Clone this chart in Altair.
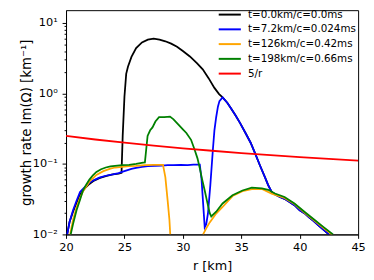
import altair as alt
import pandas as pd

# ---- data ----
series_names = ["t=0.0km/c=0.0ms", "t=7.2km/c=0.024ms", "t=126km/c=0.42ms",
                "t=198km/c=0.66ms", "5/r"]
series_colors = ["black", "#0000ff", "orange", "green", "red"]

blue_r = [20.1, 20.3, 20.6, 20.9, 21.2, 21.6, 22.0, 22.4, 22.85, 23.4, 24.0, 24.5,
          24.8, 25.2, 25.6, 26.0, 26.5, 27.0, 27.6, 28.2, 28.7, 29.2, 29.8, 30.4,
          30.9, 31.3, 31.45, 31.6, 31.75, 31.87, 32.0, 32.15, 32.35, 32.57, 32.7,
          32.85, 33.0, 33.13, 33.4, 33.8, 34.1, 34.5, 34.9, 35.36, 35.8, 36.2,
          36.6, 37.04, 37.3, 37.6, 37.9, 38.3, 38.7, 39.1, 39.55, 40.0, 40.4, 40.8,
          41.2, 41.6, 42.0, 42.5]
blue_v = [0.010, 0.015, 0.022, 0.030, 0.040, 0.047, 0.054, 0.059, 0.064, 0.068,
          0.071, 0.074, 0.077, 0.081, 0.085, 0.088, 0.091, 0.093, 0.094, 0.095,
          0.096, 0.096, 0.097, 0.096, 0.098, 0.098, 0.098, 0.060, 0.025, 0.0126,
          0.014, 0.020, 0.050, 0.160, 0.300, 0.460, 0.650, 0.780, 0.880, 0.740,
          0.620, 0.490, 0.380, 0.275, 0.200, 0.139, 0.095, 0.064, 0.050, 0.040,
          0.037, 0.034, 0.032, 0.029, 0.026, 0.022, 0.020, 0.0175, 0.0155, 0.0135,
          0.0118, 0.0100]

black_r = [20.1, 20.3, 20.6, 20.9, 21.2, 21.6, 22.0, 22.4, 22.85, 23.4, 24.0, 24.5,
           24.75, 24.85, 25.0, 25.15, 25.3, 25.6, 26.0, 26.5, 27.0, 27.5, 28.0,
           28.5, 29.0, 29.5, 30.0, 30.6, 31.2, 31.7, 32.2, 32.7, 33.1, 33.4, 33.8,
           34.1, 34.5, 34.9, 35.36, 35.8, 36.2, 36.6, 37.04, 37.3, 37.6, 37.9, 38.3,
           38.7, 39.1, 39.55, 40.0, 40.4, 40.8, 41.2, 41.6, 42.0, 42.5]
black_v = [0.010, 0.015, 0.021, 0.028, 0.037, 0.045, 0.052, 0.058, 0.063, 0.067,
           0.071, 0.073, 0.075, 0.25, 0.90, 1.90, 2.40, 3.30, 4.40, 5.30, 5.80,
           6.00, 5.80, 5.50, 5.10, 4.60, 4.00, 3.35, 2.70, 2.20, 1.65, 1.20, 0.98,
           0.88, 0.740, 0.620, 0.490, 0.380, 0.275, 0.200, 0.139, 0.095, 0.064,
           0.050, 0.040, 0.037, 0.034, 0.032, 0.029, 0.026, 0.022, 0.020, 0.0175,
           0.0155, 0.0135, 0.0118, 0.0100]

orange_r = [20.35, 20.6, 20.9, 21.2, 21.5, 22.0, 22.6, 23.2, 23.8, 24.2, 24.8,
            25.4, 26.0, 26.75, 27.5, 28.3, 28.5, 28.7, 28.85, 28.92,
            None,
            31.73, 32.0, 32.3, 32.85, 33.4, 34.25, 35.1, 35.9, 36.76, 37.6, 38.7,
            39.55, 40.4, 41.2, 42.07, 42.75]
orange_v = [0.010, 0.016, 0.024, 0.033, 0.042, 0.056, 0.070, 0.079, 0.086, 0.089,
            0.091, 0.093, 0.094, 0.096, 0.097, 0.097, 0.065, 0.030, 0.016, 0.010,
            None,
            0.010, 0.0122, 0.0148, 0.0198, 0.0245, 0.035, 0.041, 0.044, 0.044,
            0.038, 0.033, 0.027, 0.0205, 0.016, 0.0122, 0.0100]

green_r = [20.4, 20.6, 20.9, 21.2, 21.45, 21.7, 22.0, 22.3, 22.6, 23.0, 23.4, 23.8,
           24.2, 24.8, 25.4, 26.0, 26.6, 26.75, 26.98, 27.2, 27.4, 27.65, 27.96,
           28.4, 28.9, 29.2, 29.5, 30.0, 30.3, 30.7, 31.0, 31.25, 31.45, 31.65,
           31.87, 32.1, 32.3, 32.43, 32.85, 33.4, 34.25, 35.1, 35.9, 36.76, 37.3,
           37.88, 38.7, 39.55, 40.4, 41.2, 42.07, 42.85]
green_v = [0.010, 0.014, 0.022, 0.031, 0.042, 0.050, 0.060, 0.069, 0.077, 0.084,
           0.089, 0.092, 0.094, 0.096, 0.097, 0.100, 0.104, 0.105, 0.250, 0.300,
           0.330, 0.400, 0.460, 0.460, 0.470, 0.430, 0.380, 0.310, 0.275, 0.220,
           0.160, 0.120, 0.087, 0.060, 0.042, 0.028, 0.020, 0.018, 0.021, 0.0275,
           0.036, 0.042, 0.046, 0.045, 0.043, 0.038, 0.034, 0.0275, 0.021, 0.0164,
           0.0126, 0.0100]

red_r = [20, 22.5, 25, 27.5, 30, 32.5, 35, 37.5, 40, 42.5, 45]
red_v = [5 / r for r in red_r]

major_ticks = [0.01, 0.1, 1, 10]
minor_ticks = [m * d for d in [0.01, 0.1, 1, 10] for m in range(2, 10)
               if m * d < 15.2]
x_ticks = [20, 25, 30, 35, 40, 45]


def frame(name, rs, vs):
    rows, seg = [], 0
    for i, (r, v) in enumerate(zip(rs, vs)):
        if r is None:
            seg += 1
            continue
        rows.append({"series": name, "seg": seg, "order": i, "r": r, "v": v})
    return pd.DataFrame(rows)


frames = [
    frame(series_names[0], black_r, black_v),
    frame(series_names[1], blue_r, blue_v),
    frame(series_names[2], orange_r, orange_v),
    frame(series_names[3], green_r, green_v),
    frame(series_names[4], red_r, red_v),
]

FONT = "DejaVu Sans"
TICK_FS = 11.5
xscale = alt.Scale(domain=[20, 45], nice=False, zero=False)
yscale = alt.Scale(type="log", domain=[0.01, 15.2], nice=False)
color = alt.Color(
    "series:N",
    scale=alt.Scale(domain=series_names, range=series_colors),
    legend=alt.Legend(
        title=None, orient="none", legendX=158, legendY=-4,
        symbolType="M-1.5,0H1.5", symbolSize=225, symbolStrokeWidth=2,
        labelFont=FONT, labelFontSize=10.5, labelColor="black",
        rowPadding=1, labelOffset=10, padding=0,
    ),
)

label_expr = ("datum.value == 10 ? '10¹' : datum.value == 1 ? '10⁰' : "
              "datum.value == 0.1 ? '10⁻¹' : datum.value == 0.01 ? '10⁻²' : ''")

major_axis = alt.Axis(
    orient="left", values=major_ticks, labelExpr=label_expr, tickSize=4,
    tickColor="black", domainColor="black", labelFont=FONT,
    labelFontSize=TICK_FS, labelColor="black", grid=False,
    title="growth rate Im(Ω) [km⁻¹]", titleFont=FONT, titleFontSize=13.5,
    titleFontWeight="normal", titleColor="black", titlePadding=-1,
    labelPadding=5)
minor_axis = alt.Axis(
    orient="left", values=minor_ticks, labels=False, tickSize=2,
    tickColor="black", domain=False, grid=False, title=None)
x_axis = alt.Axis(
    values=x_ticks, tickSize=4, tickColor="black", domainColor="black",
    labelFont=FONT, labelFontSize=TICK_FS, labelColor="black", grid=False,
    title="r [km]", titleFont=FONT, titleFontSize=13,
    titleFontWeight="normal", titleColor="black", labelPadding=3,
    titlePadding=7, labelFlush=False)

layers = []
for i, df in enumerate(frames):
    if i == 0:
        yenc = alt.Y("v:Q", scale=yscale, axis=major_axis)
        xenc = alt.X("r:Q", scale=xscale, axis=x_axis)
    elif i == 1:
        yenc = alt.Y("v:Q", scale=yscale, axis=minor_axis)
        xenc = alt.X("r:Q", scale=xscale)
    else:
        yenc = alt.Y("v:Q", scale=yscale, axis=None)
        xenc = alt.X("r:Q", scale=xscale)
    layers.append(
        alt.Chart(df).mark_line(strokeWidth=1.8, clip=True).encode(
            x=xenc, y=yenc, color=color, detail="seg:N", order="order:Q"
        )
    )

chart = alt.layer(*layers).resolve_axis(y="independent").properties(
    width=297, height=228,
    autosize=alt.AutoSizeParams(type="none"),
    padding={"left": 59, "top": 0, "right": 8, "bottom": 36},
).configure(background="white").configure_view(stroke="black", strokeWidth=1)

chart.save("out.html", embed_options={"renderer": "svg", "actions": False})
